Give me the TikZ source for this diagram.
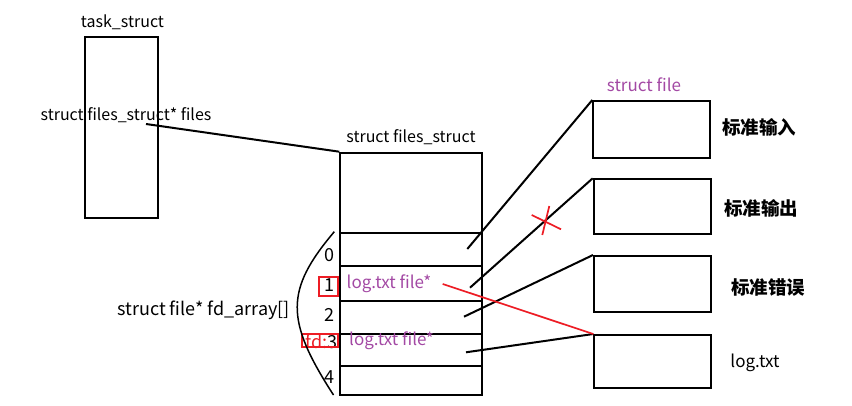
\documentclass[tikz,border=0pt]{standalone}
\usepackage{fontspec}
\setmainfont{Noto Sans CJK SC}
\definecolor{pred}{RGB}{237,28,36}
\definecolor{ppurple}{RGB}{163,73,164}
\begin{document}
\begin{tikzpicture}[x=1pt,y=-1pt,
  box/.style={draw=black,line width=2pt,inner sep=0pt,anchor=north west},
  lbl/.style={inner sep=0pt,font=\fontsize{16}{19}\selectfont},
  big/.style={inner sep=0pt,font=\fontsize{18}{21}\selectfont},
  plbl/.style={inner sep=0pt,font=\fontsize{17}{20}\selectfont,text=ppurple},
  cjk/.style={inner sep=0pt,font=\fontsize{18.5}{22}\selectfont\bfseries},
  link/.style={line width=2pt},
  rlink/.style={line width=1.7pt,draw=pred},
  rbox/.style={draw=pred,line width=1.7pt,inner sep=0pt}]
\useasboundingbox (0,0) rectangle (852,406);
% task_struct
\node[box,minimum width=73pt,minimum height=181pt] (task) at (84,36) {};
\node[lbl] (tasklbl) at (122.5,22) {task\_struct};
\node[lbl] (fileslbl) at (126,115) {struct files\_struct* files};
\coordinate (fstart) at (146,124);
% files_struct
\node[box,minimum width=141.7pt,minimum height=242.6pt] (fs) at (339.3,151.7) {};
\node[lbl] (fslbl) at (411,137.5) {struct files\_struct};
\node[box,minimum width=141.7pt,minimum height=32.4pt] (r0) at (339.3,232.3) {};
\node[box,minimum width=141.7pt,minimum height=35.3pt] (r1) at (339.3,264.7) {};
\node[box,minimum width=141.7pt,minimum height=33.3pt] (r2) at (339.3,300) {};
\node[box,minimum width=141.7pt,minimum height=31.7pt] (r3) at (339.3,333.3) {};
\node[box,minimum width=141.7pt,minimum height=29.3pt] (r4) at (339.3,365) {};
% indices
\node[big] (i0) at (329,255) {0};
\node[big] (i1) at (329,285) {1};
\node[rbox,minimum width=19pt,minimum height=19pt] (b1) at (328.6,286.2) {};
\node[big] (i2) at (329,315) {2};
\node[big,anchor=east] (i3) at (337.5,341) {\textcolor{pred}{fd:}3};
\node[rbox,minimum width=36.6pt,minimum height=12.4pt] (b3) at (320,340.5) {};
\node[big] (i4) at (329,377) {4};
% brace
\coordinate (bt) at (334.3,231.7);
\coordinate (bb) at (333.5,395);
\draw[line width=1.5pt] (bt) .. controls (285,290) and (285,320) .. (bb);
\node[big] (fdarr) at (203.5,310) {struct file* fd\_array[]};
% purple labels
\node[plbl] (l1) at (389,284) {log.txt file*};
\node[plbl] (l3) at (391.5,341) {log.txt file*};
% struct file boxes
\node[plbl] (sflbl) at (644,85) {struct file};
\node[box,minimum width=117pt,minimum height=56.7pt] (f0) at (592.3,100) {};
\node[box,minimum width=117pt,minimum height=54.4pt] (f1) at (592.7,178.3) {};
\node[box,minimum width=117pt,minimum height=55.7pt] (f2) at (593,255) {};
\node[box,minimum width=116.7pt,minimum height=53.3pt] (f3) at (593.3,334) {};
\node[cjk] (c0) at (759,127) {标准输入};
\node[cjk] (c1) at (761,208) {标准输出};
\node[cjk] (c2) at (768,287) {标准错误};
\node[lbl,font=\fontsize{17}{20}\selectfont] (c3) at (755,363) {log.txt};
% connectors
\draw[link] (fstart) -- (fs.north west);
\coordinate (p0) at (467.3,249);
\coordinate (p1) at (470,287.7);
\coordinate (p2) at (464,316.7);
\coordinate (p3) at (466,352.3);
\coordinate (pr) at (442.7,284);
\draw[link] (p0) -- (f0.north west);
\draw[link] (p1) -- (f1.north west);
\draw[link] (p2) -- (f2.north west);
\draw[link] (p3) -- (f3.north west);
\draw[rlink] (pr) -- (f3.north west);
% red X
\coordinate (xa) at (531.7,215);
\coordinate (xb) at (561,229.3);
\coordinate (xc) at (549.3,206);
\coordinate (xd) at (542.3,235);
\draw[rlink] (xa) -- (xb);
\draw[rlink] (xc) -- (xd);
\end{tikzpicture}
\end{document}
